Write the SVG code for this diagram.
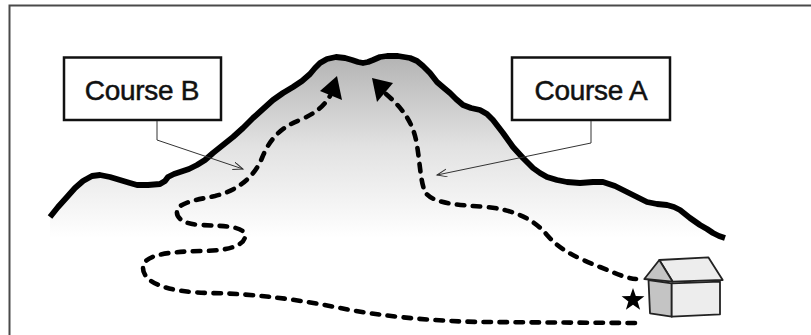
<svg xmlns="http://www.w3.org/2000/svg" width="811" height="335" viewBox="0 0 811 335">
  <style>
    .frame { stroke: #4a4a4a; stroke-width: 2; fill: none; }
    .box { fill: #ffffff; stroke: #111111; stroke-width: 2.5; }
    .label { font-family: "Liberation Sans", Arial, sans-serif; font-size: 28px; fill: #111111; stroke: #111111; stroke-width: 0.5; letter-spacing: -0.3px; text-anchor: middle; }
    .ridge { fill: none; stroke: #000000; stroke-width: 5.8; stroke-linejoin: round; stroke-linecap: butt; }
    .route { fill: none; stroke: #000000; stroke-width: 4.6; stroke-linecap: round; stroke-dasharray: 7.5 8.5; }
    .head { fill: #000000; }
    .leader { fill: none; stroke: #333333; stroke-width: 1; }
    .house-dark { fill: #c4c4c4; stroke: #222222; stroke-width: 1.8; stroke-linejoin: round; }
    .house-light { fill: #ededed; stroke: #222222; stroke-width: 1.8; stroke-linejoin: round; }
  </style>
  <defs>
    <linearGradient id="slope" gradientUnits="userSpaceOnUse" x1="0" y1="55" x2="0" y2="238">
      <stop offset="0" stop-color="#b3b3b3"/>
      <stop offset="0.5" stop-color="#e2e2e2"/>
      <stop offset="1" stop-color="#ffffff"/>
    </linearGradient>
    <marker id="open-tip" markerUnits="userSpaceOnUse" markerWidth="12" markerHeight="10" refX="10" refY="4" orient="auto">
      <path d="M0,0 L10,4 L0,8" fill="none" stroke="#333333" stroke-width="1"/>
    </marker>
  </defs>

  <!-- page frame (top and left edges) -->
  <g id="frame">
    <polyline class="frame" points="9.5,335 9.5,5.5 811,5.5"/>
  </g>

  <!-- mountain body and ridge line -->
  <g id="mountain">
    <polygon fill="url(#slope)" points="50,217 58,207 67,197 75,188 83,181 92,176 100,175 110,177 120,180 130,183 137,185 148,185 160,184 165,181 168,177 174,174 180,172 189,169 197,165 205,160 213,153 223,145 233,137 243,128 253,118 263,109 273,100 283,93 293,87 302,81 310,74 315,68 320,63 327,59 336,57 345,58 352,60 358,62 363,63 368,62 373,60 380,57 387,56 398,56 410,58 417,61 423,66 430,73 437,82 444,88 450,93 456,99 463,105 471,108 480,110 487,114 493,120 503,133 513,147 523,158 533,168 540,173 547,177 557,180 567,182 580,183 593,182 603,182 615,186 627,192 637,197 647,202 657,204 667,205 674,207 680,210 690,218 700,225 707,229 713,233 719,236 725,238 725,241 50,241"/>
    <polyline class="ridge" points="50,217 58,207 67,197 75,188 83,181 92,176 100,175 110,177 120,180 130,183 137,185 148,185 160,184 165,181 168,177 174,174 180,172 189,169 197,165 205,160 213,153 223,145 233,137 243,128 253,118 263,109 273,100 283,93 293,87 302,81 310,74 315,68 320,63 327,59 336,57 345,58 352,60 358,62 363,63 368,62 373,60 380,57 387,56 398,56 410,58 417,61 423,66 430,73 437,82 444,88 450,93 456,99 463,105 471,108 480,110 487,114 493,120 503,133 513,147 523,158 533,168 540,173 547,177 557,180 567,182 580,183 593,182 603,182 615,186 627,192 637,197 647,202 657,204 667,205 674,207 680,210 690,218 700,225 707,229 713,233 719,236 725,238"/>
  </g>

  <!-- hiking routes -->
  <g id="route-b">
    <path class="route" d="M635,323 L480,322 C430,321 380,316 340,308 C300,300 260,294 210,293 C160,292 143,280 143,268 C143,255 165,252 200,251 C230,251 245,245 245,236 C245,226 225,226 200,225 C182,224 176,217 177,211 C178,203 195,200 215,196 C240,190 255,175 262,158 C268,143 278,128 300,120 C316,113 324,106 330,96"/>
    <polygon class="head" points="337,76 320,91 342,100"/>
  </g>
  <g id="route-a">
    <path class="route" d="M386,94 C400,106 412,120 416,140 C420,160 420,180 425,192 C432,203 455,205 487,207 C515,210 535,220 547,235 C560,250 575,257 600,267 C615,273 625,278 636,279"/>
    <polygon class="head" points="372,78 377,102 393,83"/>
  </g>

  <!-- labels -->
  <g id="label-b">
    <rect class="box" x="64" y="57.5" width="157" height="62.5"/>
    <text class="label" x="142" y="100">Course B</text>
  </g>
  <g id="label-a">
    <rect class="box" x="512" y="57.5" width="158" height="62.5"/>
    <text class="label" x="591" y="100">Course A</text>
  </g>

  <!-- leader lines from labels to routes -->
  <g id="connectors">
    <polyline class="leader" points="157,121 157,140 243,169" marker-end="url(#open-tip)"/>
    <polyline class="leader" points="591,121 591,143 437,175" marker-end="url(#open-tip)"/>
  </g>

  <!-- start marker -->
  <g id="start">
    <polygon fill="#000000" points="633,288 635.8,296.1 644.4,296.3 637.6,301.5 640.1,309.7 633,304.8 625.9,309.7 628.4,301.5 621.6,296.3 630.2,296.1"/>
  </g>

  <!-- hut -->
  <g id="hut">
    <polygon class="house-dark" points="648.5,280 671.7,283.3 671.7,316.7 650,313.3"/>
    <polygon class="house-light" points="671.7,283.3 720,281.7 720,314.3 671.7,316.7"/>
    <polygon class="house-light" points="659.3,260 708.3,257.3 722.7,280 672.7,281.7"/>
    <polygon class="house-dark" points="644.3,279 659.3,260 672.7,281.7"/>
  </g>
</svg>
